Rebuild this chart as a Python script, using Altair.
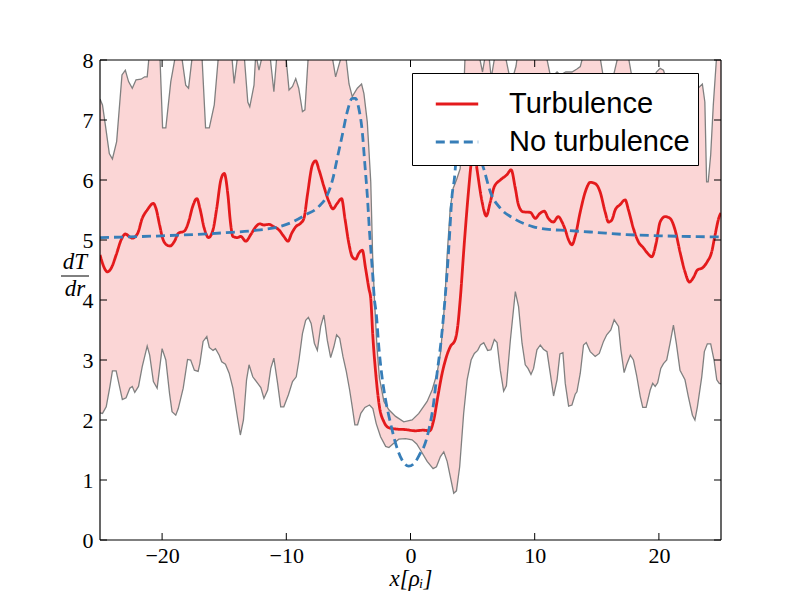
import altair as alt
import pandas as pd

# ---------------- data ----------------
lower_x = [-25.0, -24.8, -24.5, -24.2, -24.0, -23.7, -23.2, -22.9, -22.6, -22.4, -22.2, -21.9, -21.6, -21.2,
           -21.0, -20.7, -20.4, -20.0, -19.7, -19.4, -19.2, -18.9, -18.7, -18.3, -17.95, -17.7, -17.4, -17.1,
           -16.96, -16.7, -16.4, -16.2, -15.9, -15.7, -15.4, -15.2, -14.9, -14.6, -14.3, -13.9, -13.7, -13.45,
           -13.2, -13.0, -12.7, -12.3, -12.05, -11.8, -11.5, -11.25, -11.0, -10.7, -10.45, -10.2, -9.83, -9.5,
           -9.2, -8.98, -8.7, -8.44, -8.22, -8.0, -7.74, -7.5, -7.23, -6.97, -6.7, -6.43, -6.17, -5.95, -5.7,
           -5.44, -5.17, -4.9, -4.69, -4.48, -4.26, -4.0, -3.67, -3.3, -3.03, -2.76, -2.41, -2.0, -1.74, -1.42,
           -0.94, -0.4, 0.13, 0.5, 0.8, 1.34, 1.82, 2.09, 2.41, 2.68, 2.95, 3.2, 3.48, 3.7, 3.96, 4.28, 4.56,
           4.88, 5.14, 5.41, 5.63, 5.9, 6.21, 6.48, 6.75, 6.97, 7.23, 7.5, 7.72, 8.04, 8.44, 8.7, 8.98, 9.24,
           9.46, 9.7, 9.91, 10.18, 10.45, 10.7, 10.99, 11.25, 11.52, 11.8, 12.03, 12.27, 12.46, 12.73, 13.0,
           13.26, 13.4, 13.67, 13.93, 14.15, 14.47, 14.87, 15.2, 15.54, 15.8, 16.13, 16.4, 16.75, 16.94, 17.2,
           17.4, 17.7, 17.95, 18.2, 18.5, 18.7, 18.97, 19.3, 19.5, 19.7, 19.9, 20.15, 20.37, 20.63, 20.9, 21.17,
           21.4, 21.7, 22.1, 22.37, 22.7, 22.9, 23.1, 23.45, 23.66, 23.9, 24.17, 24.44, 24.66, 24.86, 25.0]
lower_y = [2.12, 2.11, 2.22, 2.56, 2.82, 2.82, 2.34, 2.37, 2.53, 2.56, 2.46, 2.56, 2.89, 3.23,
           3.08, 2.64, 2.53, 3.19, 3.0, 2.44, 2.14, 2.08, 2.19, 2.53, 3.01, 3.0, 2.83, 2.81,
           2.94, 3.31, 3.39, 3.21, 3.16, 3.19, 3.08, 2.97, 2.93, 2.78, 2.53, 2.0, 1.75, 2.0,
           2.67, 2.92, 2.72, 2.61, 2.54, 2.36, 2.5, 2.86, 3.03, 2.61, 2.22, 2.22, 2.42, 2.64,
           2.72, 3.0, 3.44, 3.66, 3.71, 3.61, 3.28, 3.16, 3.56, 3.75, 3.33, 3.04, 3.22, 3.42, 3.36,
           3.06, 2.81, 2.5, 2.22, 1.92, 1.92, 2.11, 2.21, 2.25, 2.19, 1.94, 1.72, 1.56, 1.54, 1.6,
           1.68, 1.69, 1.67, 1.6, 1.5, 1.31, 1.19, 1.22, 1.39, 1.47, 1.31, 1.06, 0.78, 0.82, 1.22, 2.11, 2.67,
           3.0, 3.11, 3.16, 3.25, 3.29, 3.16, 3.17, 3.34, 3.29, 2.83, 2.48, 2.57, 3.33, 4.14, 3.89, 3.28, 2.92,
           2.86, 2.76, 2.86, 3.17, 3.25, 3.18, 3.14, 2.78, 2.4, 2.67, 3.1, 3.12, 2.61, 2.23, 2.25,
           2.43, 2.47, 2.78, 3.25, 3.29, 3.14, 3.06, 3.11, 3.31, 3.42, 3.5, 3.67, 3.56, 3.17, 2.79,
           2.92, 3.08, 3.0, 2.75, 2.39, 2.21, 2.21, 2.5, 2.61, 2.56, 2.62, 2.86, 2.94, 3.0, 3.28, 3.58,
           3.28, 2.83, 2.67, 2.39, 2.08, 2.0, 2.22, 2.72, 3.14, 3.27, 3.27, 3.0, 2.67, 2.61, 2.6]

upper_x = [-25.0, -24.8, -24.57, -24.25, -24.0, -23.66, -23.23, -22.96, -22.7, -22.4, -22.1, -21.7, -21.4,
           -21.2, -20.9, -20.5, -20.2, -19.96, -19.7, -19.3, -18.9, -18.7, -18.45, -18.1, -17.87, -17.55,
           -17.2, -16.8, -16.5, -16.2, -15.8, -15.45, -15.0, -14.4, -14.2, -13.9, -13.65, -13.4, -13.1,
           -12.94, -12.6, -12.46, -12.2, -11.9, -11.6, -11.3, -11.0, -10.75, -10.4, -10.05, -9.78, -9.5,
           -9.24, -9.0, -8.7, -8.5, -8.22, -7.8, -7.2, -6.6, -6.3, -6.03, -5.76, -5.5, -5.2, -4.95, -4.69,
           -4.28, -3.94, -3.75, -3.48, -3.2, -3.05, -2.9, -2.7, -2.5, -2.14, -1.74, -1.2, -0.54, 0.13, 0.67,
           1.34, 1.74, 2.14, 2.41, 2.63, 2.81, 2.95, 3.2, 3.43, 3.7, 4.0, 4.2, 4.4, 4.6, 5.0, 5.4, 5.8, 6.2,
           6.5, 6.9, 7.3, 7.7, 8.1, 8.5, 8.8, 9.3, 9.8, 10.2, 10.8, 11.3, 11.8, 12.06, 12.5, 13.0, 13.4,
           13.67, 13.93, 14.4, 15.0, 15.3, 15.54, 15.9, 16.3, 16.75, 17.2, 17.5, 17.8, 18.3, 18.8, 19.4,
           19.8, 20.1, 20.37, 20.7, 21.2, 21.8, 22.4, 23.0, 23.5, 23.7, 23.84, 23.97, 24.17, 24.38, 24.66, 25.0]
upper_y = [7.35, 7.25, 6.92, 6.44, 6.35, 6.64, 7.75, 7.83, 7.64, 7.53, 7.67, 7.68, 7.72,
           7.72, 8.4, 8.6, 8.2, 6.87, 6.87, 7.64, 8.1, 8.5, 8.1, 7.58, 7.53, 8.1,
           8.6, 8.1, 6.87, 6.87, 7.25, 8.1, 8.6, 8.1, 7.61, 8.1, 8.4, 8.1, 7.3,
           7.22, 7.58, 8.1, 7.83, 8.1, 8.3, 8.05, 7.47, 8.1, 8.4, 8.1, 7.5, 7.56,
           7.69, 7.53, 7.14, 7.17, 8.1, 8.5, 8.6, 8.4, 8.05, 7.72, 7.92, 8.1, 8.05, 7.6, 7.39,
           7.53, 7.6, 7.44, 6.97, 5.97, 4.75, 4.0, 3.22, 2.7, 2.31, 2.17, 2.06, 1.97, 2.0, 2.11,
           2.31, 2.5, 2.78, 3.11, 3.61, 4.17, 4.75, 5.53, 5.86, 6.0, 6.19, 7.0, 8.1, 8.4, 8.6, 8.2, 7.8, 8.3,
           7.7, 8.2, 8.5, 8.0, 7.6, 7.9, 8.4, 8.6, 8.1, 8.5, 8.2, 7.7, 7.8, 7.75, 7.8, 7.8, 7.85,
           7.89, 8.1, 8.5, 8.3, 8.0, 7.7, 7.6, 7.7, 8.1, 8.4, 8.1, 7.75, 7.6, 7.5, 7.6,
           7.8, 7.86, 7.83, 7.6, 7.3, 7.2, 7.4, 7.5, 7.6, 7.3, 5.97, 5.97, 6.42, 7.25, 8.1, 8.5]

turb_x = [-25.0, -24.4, -24.1, -23.7, -23.3, -22.96, -22.6, -22.4, -21.97, -21.6, -21.2, -20.7, -20.5, -20.2,
          -19.96, -19.7, -19.37, -19.0, -18.7, -18.2, -17.87, -17.55, -17.2, -16.96, -16.6, -16.26, -15.9,
          -15.6, -15.27, -15.0, -14.7, -14.5, -14.3, -13.93, -13.67, -13.26, -12.86, -12.46, -12.14, -11.8,
          -11.4, -11.0, -10.6, -10.2, -9.86, -9.57, -9.24, -8.84, -8.58, -8.3, -7.9, -7.64, -7.37, -6.97,
          -6.57, -6.25, -5.9, -5.55, -5.28, -4.96, -4.69, -4.42, -4.16, -3.88, -3.62, -3.35, -3.2, -3.03,
          -2.8, -2.5, -2.14, -1.74, -1.2, -0.4, 0.4, 1.0, 1.55, 1.87, 2.2, 2.55, 2.9, 3.2, 3.6, 3.8, 4.0,
          4.34, 4.69, 4.9, 5.12, 5.36, 5.76, 6.1, 6.43, 6.75, 7.23, 7.77, 8.1, 8.44, 8.7, 9.06, 9.65, 10.05,
          10.4, 10.77, 11.1, 11.5, 11.9, 12.2, 12.46, 12.73, 13.0, 13.26, 13.67, 14.07, 14.47, 14.87, 15.27,
          15.67, 15.94, 16.2, 16.48, 16.88, 17.28, 17.55, 17.95, 18.35, 18.75, 19.08, 19.43, 19.77, 20.1,
          20.5, 20.9, 21.3, 21.7, 22.1, 22.45, 22.77, 23.1, 23.53, 23.9, 24.25, 24.5, 24.86, 25.0]
turb_y = [4.75, 4.47, 4.53, 4.75, 5.0, 5.1, 5.05, 5.03, 5.11, 5.36, 5.5, 5.61, 5.53, 5.25,
          5.03, 4.93, 4.9, 4.98, 5.11, 5.15, 5.3, 5.55, 5.69, 5.53, 5.19, 5.04, 5.17,
          5.53, 6.0, 6.11, 5.75, 5.3, 5.06, 5.04, 5.06, 4.98, 5.09, 5.22, 5.27, 5.25,
          5.26, 5.22, 5.17, 5.06, 4.98, 5.11, 5.22, 5.28, 5.36, 5.75, 6.25, 6.32, 6.17, 5.89,
          5.64, 5.52, 5.61, 5.69, 5.36, 4.94, 4.72, 4.68, 4.78, 4.83, 4.53, 4.19, 4.02, 3.39,
          2.78, 2.22, 1.97, 1.87, 1.85, 1.84, 1.82, 1.83, 1.82, 2.0, 2.39, 2.78, 3.06, 3.22, 3.34, 3.56, 4.0,
          4.97, 5.86, 6.3, 6.5, 6.17, 5.64, 5.4, 5.64, 5.89, 6.0, 6.09, 6.17, 5.86, 5.58, 5.47, 5.46, 5.36,
          5.44, 5.48, 5.36, 5.3, 5.39, 5.3, 5.17, 5.0, 4.92, 5.06, 5.47, 5.8, 5.96, 5.94, 5.8,
          5.47, 5.3, 5.33, 5.5, 5.59, 5.67, 5.5, 5.19, 4.97, 4.87, 4.78, 4.72, 4.94, 5.3,
          5.39, 5.36, 5.17, 4.8, 4.47, 4.3, 4.37, 4.5, 4.54, 4.64, 4.8, 5.06, 5.39, 5.45]

noturb_x = [-25.0, -20.0, -15.0, -12.5, -10.6, -9.5, -8.44, -7.37, -6.7, -6.24, -5.9, -5.49, -5.09, -4.69,
            -4.42, -4.16, -3.88, -3.67, -3.48, -3.3, -3.08, -2.9, -2.76, -2.55, -2.33, -2.0, -1.6, -1.2,
            -0.67, -0.15, 0.35, 0.8, 1.07, 1.47, 1.82, 2.14, 2.47, 2.68, 2.9, 3.08, 3.35, 3.54, 3.75, 3.95,
            4.2, 4.45, 4.75, 5.15, 5.5, 5.95, 6.43, 7.23, 8.3, 9.9, 11.5, 12.46, 14.7, 17.4, 20.1, 25.0]
noturb_y = [5.04, 5.07, 5.12, 5.16, 5.22, 5.3, 5.42, 5.56, 5.75, 6.03, 6.36, 6.75, 7.14, 7.36,
            7.36, 7.19, 6.8, 6.25, 5.75, 5.14, 4.53, 4.0, 3.78, 3.22, 2.78, 2.33, 1.94, 1.61,
            1.33, 1.23, 1.29, 1.45, 1.55, 1.83, 2.22, 2.78, 3.33, 3.78, 4.33, 4.86, 5.75, 6.03, 6.6, 7.1,
            7.34, 7.36, 7.15, 6.75, 6.45, 6.15, 5.8, 5.53, 5.36, 5.22, 5.17, 5.16, 5.13, 5.09, 5.07, 5.05]

series_names = ["Turbulence", "No turbulence"]
x_ticks = [-20, -10, 0, 10, 20]
y_ticks = [0, 1, 2, 3, 4, 5, 6, 7, 8]

# ---------------- styling ----------------
RED = "#e41a1c"
BLUE = "#377eb8"
GRAY = "#808080"
PINK = "#fbd6d6"
SERIF = "Liberation Serif"
SANS = "Liberation Sans"
W, H = 621, 480
TICK = 7

xs = alt.Scale(domain=[-25, 25], nice=False, zero=False)
ys = alt.Scale(domain=[0, 8], nice=False, zero=False)
xaxis = alt.Axis(values=x_ticks, ticks=False, domain=False, grid=False, labelFont=SERIF,
                 labelFontSize=22, labelColor="black", labelPadding=5, title="x[ρᵢ]",
                 titleFont=SERIF, titleFontSize=23, titleFontStyle="italic",
                 titleFontWeight="normal", titleColor="black", titlePadding=1)
yaxis = alt.Axis(values=y_ticks, ticks=False, domain=False, grid=False, labelFont=SERIF,
                 labelFontSize=22, labelColor="black", labelPadding=7, title=None)


def X(f):
    return alt.X(f, type="quantitative", scale=xs, axis=xaxis)


def Y(f):
    return alt.Y(f, type="quantitative", scale=ys, axis=yaxis)


df_low = pd.DataFrame({"x": lower_x, "y": lower_y})
df_up = pd.DataFrame({"x": upper_x, "y": upper_y})
df_lines = pd.concat([
    pd.DataFrame({"x": turb_x, "y": turb_y, "series": series_names[0]}),
    pd.DataFrame({"x": noturb_x, "y": noturb_y, "series": series_names[1]}),
])
df_xt = pd.DataFrame({"x": x_ticks})
df_yt = pd.DataFrame({"y": y_ticks})
one = pd.DataFrame({"a": [0]})

# band: pink from lower bound upward, then white above upper bound
band_fill = alt.Chart(df_low).mark_area(color=PINK, clip=True).encode(
    x=X("x"), y=Y("y"), y2=alt.datum(9))
band_cut = alt.Chart(df_up).mark_area(color="white", clip=True).encode(
    x=X("x"), y=Y("y"), y2=alt.datum(9))
low_line = alt.Chart(df_low).mark_line(color=GRAY, strokeWidth=1.3, clip=True).encode(
    x=X("x"), y=Y("y"))
up_line = alt.Chart(df_up).mark_line(color=GRAY, strokeWidth=1.3, clip=True).encode(
    x=X("x"), y=Y("y"))

lines = alt.Chart(df_lines).mark_line(strokeWidth=2.8, clip=True, interpolate="monotone").encode(
    x=X("x"), y=Y("y"),
    color=alt.Color("series:N", scale=alt.Scale(domain=series_names, range=[RED, BLUE]),
                    legend=alt.Legend(title=None)),
    strokeDash=alt.StrokeDash("series:N", scale=alt.Scale(domain=series_names, range=[[1, 0], [9, 5]]),
                              legend=alt.Legend(title=None)),
)

# inward ticks on all four sides
tb = alt.Chart(df_xt).mark_rule(color="black", strokeWidth=1).encode(
    x=X("x"), y=alt.value(H), y2=alt.value(H - TICK))
tt = alt.Chart(df_xt).mark_rule(color="black", strokeWidth=1).encode(
    x=X("x"), y=alt.value(0), y2=alt.value(TICK))
tl = alt.Chart(df_yt).mark_rule(color="black", strokeWidth=1).encode(
    y=Y("y"), x=alt.value(0), x2=alt.value(TICK))
tr = alt.Chart(df_yt).mark_rule(color="black", strokeWidth=1).encode(
    y=Y("y"), x=alt.value(W), x2=alt.value(W - TICK))

# frame
fr_top = alt.Chart(one).mark_rule(color="black", strokeWidth=1.2).encode(
    x=alt.value(0), x2=alt.value(W), y=alt.value(0))
fr_bot = alt.Chart(one).mark_rule(color="black", strokeWidth=1.2).encode(
    x=alt.value(0), x2=alt.value(W), y=alt.value(H))
fr_left = alt.Chart(one).mark_rule(color="black", strokeWidth=1.2).encode(
    y=alt.value(0), y2=alt.value(H), x=alt.value(0))
fr_right = alt.Chart(one).mark_rule(color="black", strokeWidth=1.2).encode(
    y=alt.value(0), y2=alt.value(H), x=alt.value(W))

# y label as a fraction dT/dr
num = alt.Chart(pd.DataFrame({"t": ["dT"]})).mark_text(
    font=SERIF, fontSize=23, fontStyle="italic", color="black", align="center", baseline="alphabetic"
).encode(text="t:N", x=alt.value(-25), y=alt.value(209))
den = alt.Chart(pd.DataFrame({"t": ["dr"]})).mark_text(
    font=SERIF, fontSize=23, fontStyle="italic", color="black", align="center", baseline="alphabetic"
).encode(text="t:N", x=alt.value(-25), y=alt.value(236))
bar = alt.Chart(one).mark_rule(color="black", strokeWidth=1).encode(
    x=alt.value(-39), x2=alt.value(-11), y=alt.value(216))

chart = alt.layer(
    band_fill, band_cut, low_line, up_line, lines,
    tb, tt, tl, tr, fr_top, fr_bot, fr_left, fr_right, num, den, bar
).properties(
    width=W, height=H, background="white",
    padding={"left": 92, "top": 52, "right": 71, "bottom": 60},
    autosize=alt.AutoSizeParams(type="none"),
).configure_view(
    stroke=None
).configure_legend(
    orient="none", legendX=312, legendY=13, padding=8,
    fillColor="white", strokeColor="black", strokeWidth=1, cornerRadius=0,
    symbolType="stroke", symbolSize=1800, symbolStrokeWidth=2.8, symbolOffset=14,
    labelFont=SANS, labelFontSize=29, labelColor="black", labelOffset=29, labelLimit=400,
    rowPadding=0,
)

chart.save("out.html", embed_options={"renderer": "svg", "actions": False})
